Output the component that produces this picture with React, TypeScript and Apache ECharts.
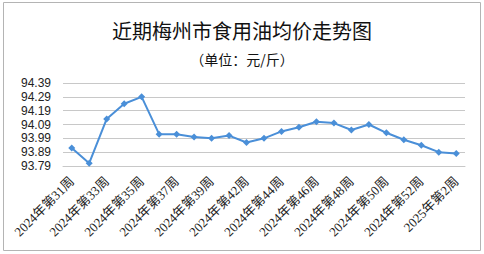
import React, { useEffect, useRef } from "react";
import * as echarts from "echarts";

const categories = [
  "2024年第31周", "2024年第32周", "2024年第33周", "2024年第34周", "2024年第35周",
  "2024年第36周", "2024年第37周", "2024年第38周", "2024年第39周", "2024年第40周",
  "2024年第42周", "2024年第43周", "2024年第44周", "2024年第45周", "2024年第46周",
  "2024年第47周", "2024年第48周", "2024年第49周", "2024年第50周", "2024年第51周",
  "2024年第52周", "2025年第1周", "2025年第2周",
];
const prices = [
  93.92, 93.81, 94.13, 94.24, 94.29, 94.02, 94.02, 94.0, 93.99, 94.01,
  93.96, 93.99, 94.04, 94.07, 94.11, 94.1, 94.05, 94.09, 94.03, 93.98,
  93.94, 93.89, 93.88,
];
const titleText = "近期梅州市食用油均价走势图";
const subtitleText = "（单位：元/斤）";
const yMin = 93.79;
const yMax = 94.39;
const yStep = 0.1;

export default function App() {
  const ref = useRef<HTMLDivElement>(null);
  useEffect(() => {
    if (!ref.current) return;
    const chart = echarts.init(ref.current, undefined, { renderer: "svg" });
    chart.setOption({
      animation: false,
      backgroundColor: "#ffffff",
      graphic: [
        {
          type: "rect",
          shape: { x: 3.5, y: 2.5, width: 477, height: 248 },
          style: { fill: "none", stroke: "#b4b4b4", lineWidth: 1 },
          silent: true,
        },
      ],
      title: [
        {
          text: titleText,
          left: "center",
          top: 15,
          textStyle: {
            fontFamily: "Noto Sans CJK SC",
            fontSize: 20,
            fontWeight: "normal",
            color: "#111111",
          },
        },
        {
          text: subtitleText,
          left: "center",
          top: 47,
          textStyle: {
            fontFamily: "Noto Sans CJK SC",
            fontSize: 14,
            fontWeight: "normal",
            color: "#111111",
          },
        },
      ],
      grid: { left: 63, right: 19, top: 83, bottom: 88, containLabel: false },
      xAxis: {
        type: "category",
        data: categories,
        boundaryGap: true,
        axisLine: { lineStyle: { color: "#c8c8c8", width: 1 } },
        axisTick: { show: false },
        axisLabel: {
          interval: 1,
          rotate: 45,
          margin: 13,
          fontFamily: "Liberation Serif, Noto Sans CJK SC",
          fontSize: 13,
          color: "#222222",
        },
      },
      yAxis: {
        type: "value",
        min: yMin,
        max: yMax,
        interval: yStep,
        axisLine: { show: false },
        axisTick: { show: false },
        splitLine: { lineStyle: { color: "#c8c8c8", width: 1 } },
        axisLabel: {
          margin: 12,
          fontFamily: "Liberation Sans",
          fontSize: 12,
          color: "#222222",
          formatter: (v: number) => v.toFixed(2),
        },
      },
      series: [
        {
          type: "line",
          data: prices,
          symbol: "diamond",
          symbolSize: 7,
          lineStyle: { color: "#4a8fd8", width: 2 },
          itemStyle: { color: "#4a8fd8" },
        },
      ],
    });
    return () => chart.dispose();
  }, []);
  return (
    <div
      ref={ref}
      style={{ position: "fixed", left: 0, top: 0, width: 484, height: 254 }}
    />
  );
}
